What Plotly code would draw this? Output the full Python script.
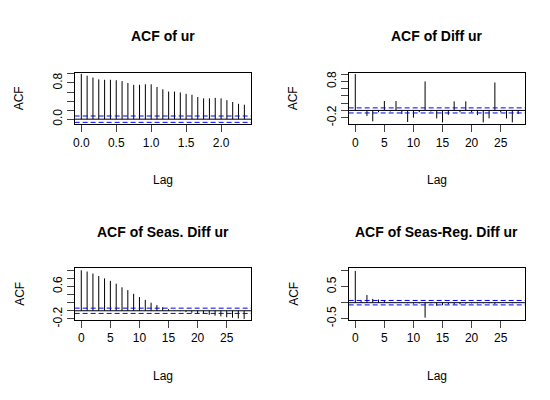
import plotly.graph_objects as go

lags1 = [i/12 for i in range(29)]
acf1 = [1.0,0.96,0.92,0.88,0.87,0.87,0.86,0.84,0.80,0.76,0.76,0.77,0.77,0.71,0.66,0.61,0.61,0.59,0.56,0.54,0.49,0.46,0.46,0.47,0.46,0.42,0.38,0.34,0.32]
lags = list(range(29))
acf2 = [1.0,0.01,-0.15,-0.3,-0.05,0.26,-0.03,0.26,-0.1,-0.32,-0.2,-0.05,0.8,-0.03,-0.22,-0.33,-0.12,0.25,-0.05,0.25,-0.05,-0.13,-0.33,-0.22,0.77,-0.05,-0.22,-0.33,-0.1]
acf3 = [1.0,0.97,0.92,0.86,0.80,0.74,0.67,0.58,0.51,0.42,0.34,0.27,0.2,0.14,0.09,0.04,0.01,-0.01,-0.03,-0.05,-0.07,-0.08,-0.1,-0.12,-0.14,-0.16,-0.17,-0.19,-0.2]
acf4 = [1.0,0.05,0.24,0.12,0.1,0.06,0.02,0.0,0.01,-0.02,-0.03,-0.02,-0.47,-0.02,-0.1,-0.08,-0.05,-0.06,-0.05,-0.03,-0.02,-0.02,-0.02,-0.02,-0.04,0.01,-0.01,-0.02,0.01]
titles = ["ACF of ur","ACF of Diff ur","ACF of Seas. Diff ur","ACF of Seas-Reg. Diff ur"]
bands = [0.07,0.07,0.065,0.07]

panels = [
    (lags1, acf1, [0.118,0.44], [0.705,0.8375], [-0.095,2.43], [-0.114,1.03], [0,0.5,1.0,1.5,2.0], ["0.0","0.5","1.0","1.5","2.0"], [0,0.2,0.4,0.6,0.8,1.0], {0:"0.0",0.8:"0.8"}),
    (lags, acf2, [0.618,0.94], [0.705,0.8375], [-1.14,29.2], [-0.384,1.045], [0,5,10,15,20,25], None, [-0.2,0,0.2,0.4,0.6,0.8,1.0], {-0.2:"-0.2",0.8:"0.8"}),
    (lags, acf3, [0.118,0.44], [0.205,0.3375], [-1.14,29.2], [-0.224,1.056], [0,5,10,15,20,25], None, [-0.2,0,0.2,0.4,0.6,0.8,1.0], {-0.2:"-0.2",0.6:"0.6"}),
    (lags, acf4, [0.618,0.94], [0.205,0.3375], [-1.14,29.2], [-0.54,1.09], [0,5,10,15,20,25], None, [-0.5,0,0.5,1.0], {-0.5:"-0.5",0.5:"0.5"}),
]

fig = go.Figure()
font = dict(family="Liberation Sans, Arial", size=12, color="black")
layout = dict(width=550, height=400, margin=dict(l=0,r=0,t=0,b=0), showlegend=False,
              plot_bgcolor="white", paper_bgcolor="white", font=font)
ann = []
for i,(x,y,xd,yd,xr,yr,xt,xtt,yt,ylab) in enumerate(panels):
    k = "" if i==0 else str(i+1)
    xs, ys = [], []
    for a,b in zip(x,y):
        xs += [a,a,None]; ys += [0,b,None]
    fig.add_trace(go.Scatter(x=xs, y=ys, mode="lines", line=dict(color="black", width=1), xaxis="x"+k, yaxis="y"+k))
    fig.add_trace(go.Scatter(x=xr, y=[0,0], mode="lines", line=dict(color="black", width=1), xaxis="x"+k, yaxis="y"+k))
    for s in (1,-1):
        fig.add_trace(go.Scatter(x=xr, y=[s*bands[i]]*2, mode="lines", line=dict(color="blue", width=1, dash="5px,3px"), xaxis="x"+k, yaxis="y"+k))
    layout["xaxis"+k] = dict(domain=xd, anchor="y"+k, range=xr, tickvals=xt, ticktext=xtt if xtt else [str(v) for v in xt],
                             ticks="outside", ticklen=7, showgrid=False, zeroline=False, showline=True, mirror=True,
                             linecolor="black", linewidth=1, tickfont=font)
    layout["yaxis"+k] = dict(domain=yd, anchor="x"+k, range=yr, tickvals=yt, ticktext=[ylab.get(v,"") for v in yt],
                             ticks="outside", ticklen=7, tickangle=-90, showgrid=False, zeroline=False, showline=True, mirror=True,
                             linecolor="black", linewidth=1, tickfont=font)
    cx = (xd[0]+xd[1])/2
    top = i < 2
    ann.append(dict(text="<b>"+titles[i]+"</b>", x=cx, y=0.93 if top else 0.43, xref="paper", yref="paper", showarrow=False,
                    xanchor="center", yanchor="middle", font=dict(family="Liberation Sans, Arial", size=14, color="black")))
    ann.append(dict(text="Lag", x=cx, y=0.5625 if top else 0.0625, xref="paper", yref="paper", showarrow=False,
                    xanchor="center", yanchor="middle", font=font))
    ann.append(dict(text="ACF", x=xd[0]-0.1, y=(yd[0]+yd[1])/2, xref="paper", yref="paper", showarrow=False, textangle=-90,
                    xanchor="center", yanchor="middle", font=font))
layout["annotations"] = ann
fig.update_layout(**layout)
fig.write_html("out.html")
